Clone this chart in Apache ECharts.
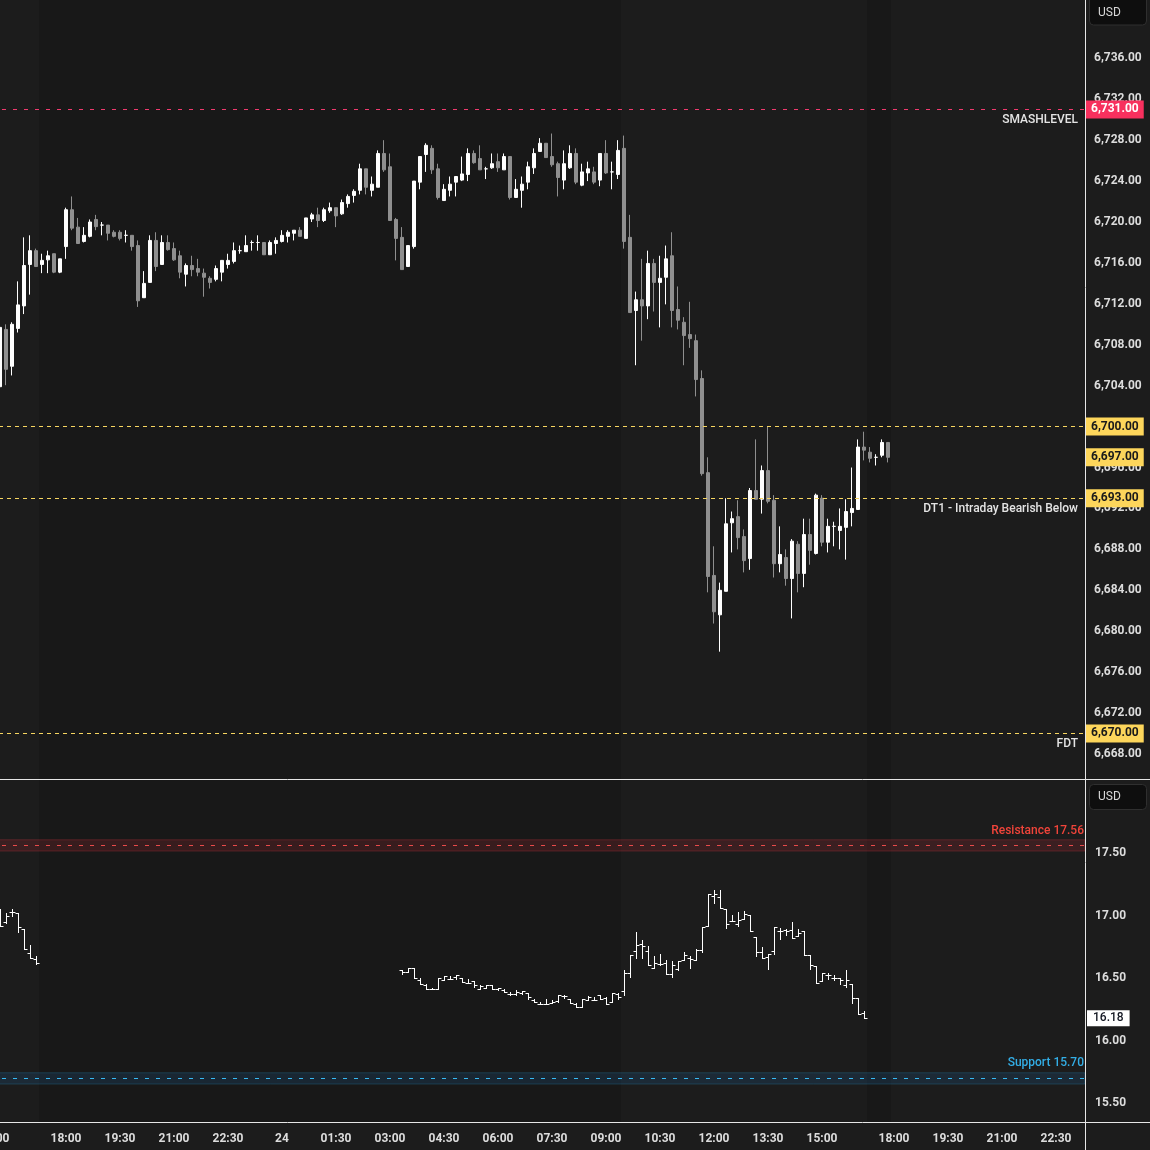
<!DOCTYPE html>
<html><head><meta charset="utf-8">
<script src="https://cdn.jsdelivr.net/npm/echarts@6/dist/echarts.min.js"></script>
<style>html,body{margin:0;padding:0;background:#1c1c1c;}#c{width:1150px;height:1150px;}</style>
</head><body><div id="c"></div>
<script>
// ---- time axis: 10-minute slots, slot 0 = 15:00 (day 1); the 17:00-18:00 break is skipped ----
const xTickSlots  = [0, 12, 21, 30, 39, 48, 57, 66, 75, 84, 93, 102, 111, 120, 129, 138, 150, 159, 168, 177];
const xTickLabels = ['15:00','18:00','19:30','21:00','22:30','24','01:30','03:00','04:30','06:00','07:30','09:00','10:30','12:00','13:30','15:00','18:00','19:30','21:00','22:30'];
const xSlotMin = -0.5, xSlotMax = 181.8333;
// shaded (extended-hours) slot ranges
const shadeRanges = [[7.5, 104.5], [145.5, 149.5]];

// ---- price pane ----
const priceTicks = [6668,6672,6676,6680,6684,6688,6692,6696,6700,6704,6708,6712,6716,6720,6724,6728,6732,6736];
const priceMin = 6665.552, priceMax = 6741.704;
const esFirstSlot = 1;
const esOpen = [6703.9,6709.5,6705.9,6709.6,6711.8,6715.85,6717.2,6715.85,6716.3,6716.9,6715.1,6717.6,6721.2,6719.5,6718.1,6718.6,6720.25,6719.7,6719.7,6719.0,6719.0,6718.7,6718.7,6717.7,6712.6,6714.1,6718.2,6715.85,6718.0,6717.4,6716.7,6714.9,6715.75,6715.45,6715.0,6714.5,6714.4,6715.1,6715.85,6716.15,6717.2,6717.1,6718.0,6718.0,6718.0,6716.8,6717.9,6718.1,6718.6,6718.9,6719.2,6718.4,6720.3,6720.7,6720.15,6721.1,6721.4,6720.8,6721.8,6722.6,6723.1,6725.2,6723.1,6723.4,6726.7,6725.4,6720.25,6718.5,6715.65,6717.6,6723.9,6726.6,6727.2,6725.2,6722.1,6723.1,6723.9,6724.1,6724.65,6726.7,6726.2,6725.2,6725.3,6725.9,6725.1,6726.4,6722.4,6723.1,6723.9,6725.3,6726.9,6727.7,6726.4,6725.7,6724.1,6725.3,6726.7,6723.6,6724.8,6724.9,6724.1,6726.7,6724.9,6724.65,6727.2,6718.5,6711.35,6712.4,6711.8,6715.95,6714.1,6714.6,6716.7,6711.45,6710.2,6709.0,6708.4,6704.7,6695.5,6685.45,6681.6,6683.9,6690.6,6691.2,6689.25,6687.1,6693.75,6692.9,6695.7,6692.8,6686.6,6687.2,6685.15,6688.5,6685.65,6689.45,6687.6,6693.0,6688.7,6690.25,6689.85,6690.15,6691.6,6691.9,6698.0,6697.5,6697.0,6697.2,6698.45];
const esHigh = [6710.2,6710.0,6710.2,6714.2,6718.5,6718.7,6717.4,6716.9,6717.2,6716.9,6716.4,6721.4,6722.5,6720.4,6719.5,6720.25,6720.7,6720.0,6719.7,6719.2,6719.2,6719.2,6718.7,6718.2,6715.2,6718.7,6719.0,6718.7,6718.7,6718.0,6717.2,6715.95,6716.7,6716.4,6715.45,6714.7,6715.75,6716.25,6716.9,6718.0,6717.7,6718.7,6718.2,6718.7,6718.0,6718.2,6718.5,6719.2,6719.2,6719.2,6719.5,6720.4,6720.9,6721.4,6721.4,6721.9,6721.4,6722.2,6722.7,6723.2,6725.7,6725.2,6724.45,6727.0,6728.0,6726.7,6720.4,6719.5,6717.7,6724.0,6726.4,6727.7,6727.5,6725.7,6723.7,6724.45,6724.45,6726.4,6727.2,6727.0,6727.5,6725.4,6726.7,6726.7,6726.7,6726.4,6724.2,6724.45,6725.9,6727.2,6728.2,6727.7,6728.65,6725.9,6727.0,6727.5,6727.2,6725.7,6725.9,6725.4,6726.7,6728.0,6725.9,6728.0,6728.45,6720.7,6713.2,6716.4,6717.2,6716.4,6716.7,6717.7,6719.0,6713.7,6710.7,6712.2,6709.0,6705.5,6697.0,6688.3,6684.75,6693.0,6691.7,6692.8,6689.95,6694.0,6698.75,6696.2,6700.0,6693.3,6690.25,6688.0,6689.0,6688.8,6691.0,6691.0,6693.45,6693.3,6691.0,6690.7,6692.0,6692.9,6696.0,6698.75,6699.5,6698.0,6697.3,6698.75,6698.45];
const esLow = [6703.5,6704.05,6705.0,6709.2,6711.0,6712.9,6715.6,6715.0,6715.0,6715.0,6715.0,6716.4,6719.2,6717.9,6718.0,6718.5,6719.2,6718.7,6718.2,6718.5,6718.2,6718.0,6717.2,6711.7,6712.6,6714.1,6715.2,6715.85,6717.2,6716.2,6714.5,6713.7,6714.7,6714.7,6712.7,6713.5,6714.2,6714.2,6715.45,6715.95,6716.9,6717.1,6717.2,6717.2,6716.8,6716.8,6716.9,6718.0,6718.0,6718.2,6718.6,6718.4,6720.0,6719.5,6720.0,6720.9,6719.5,6720.7,6721.4,6721.9,6722.7,6722.7,6722.5,6723.4,6724.9,6720.15,6716.25,6715.35,6715.65,6717.4,6723.2,6724.9,6724.7,6722.2,6722.1,6722.5,6722.5,6724.0,6724.0,6725.7,6725.1,6724.2,6725.2,6724.9,6725.1,6722.2,6722.4,6721.4,6723.2,6724.7,6726.9,6726.3,6725.4,6722.5,6723.2,6725.2,6723.7,6723.5,6724.0,6723.7,6723.5,6724.7,6723.2,6724.2,6717.4,6711.15,6706.0,6708.4,6710.5,6711.25,6709.7,6711.95,6709.7,6709.5,6706.0,6707.7,6702.95,6695.2,6683.8,6680.75,6678.0,6683.9,6687.7,6688.0,6685.75,6686.0,6692.9,6691.5,6692.5,6685.25,6685.75,6684.45,6681.25,6683.8,6684.3,6686.5,6687.5,6688.3,6687.7,6688.3,6688.0,6687.0,6690.25,6691.9,6696.7,6696.5,6696.2,6697.0,6696.5];
const esClose = [6709.7,6705.6,6710.0,6711.9,6715.75,6717.2,6715.65,6716.25,6716.7,6715.1,6716.4,6721.2,6719.4,6717.9,6718.7,6720.0,6719.55,6719.7,6718.9,6718.6,6718.4,6718.7,6717.6,6712.3,6714.0,6718.2,6715.65,6718.0,6717.3,6716.3,6715.1,6715.75,6715.35,6715.1,6714.6,6714.1,6715.45,6716.25,6716.25,6717.2,6717.2,6717.7,6718.0,6718.0,6716.8,6718.0,6718.2,6718.7,6719.0,6719.2,6718.6,6720.4,6720.7,6720.15,6721.2,6721.4,6720.6,6721.9,6722.5,6723.0,6725.2,6723.4,6723.7,6726.7,6725.1,6720.15,6718.4,6715.35,6717.7,6724.0,6726.4,6727.5,6725.1,6722.4,6723.2,6723.7,6724.45,6724.7,6726.7,6725.8,6725.1,6725.2,6725.7,6725.3,6726.4,6722.4,6723.2,6723.7,6725.4,6726.7,6727.7,6726.3,6725.6,6724.35,6725.7,6726.7,6723.9,6724.9,6725.2,6723.9,6726.7,6724.8,6724.9,6727.0,6718.1,6711.15,6712.4,6711.8,6715.95,6714.1,6714.5,6716.4,6711.35,6710.4,6708.9,6708.6,6704.6,6695.4,6685.35,6681.9,6684.0,6690.5,6691.0,6689.15,6686.9,6693.75,6692.9,6695.7,6692.7,6686.6,6687.5,6685.15,6688.8,6685.65,6689.45,6687.9,6693.3,6688.7,6690.25,6690.25,6690.25,6691.7,6692.0,6698.0,6697.7,6696.9,6697.0,6698.45,6697.0];
const priceLevels = [6731, 6700, 6693, 6670];
const priceLevelNames = ['SMASHLEVEL', '', 'DT1 - Intraday Bearish Below', 'FDT'];
const priceLevelKinds = ['smash', 'key', 'key', 'key'];
const lastPrice = 6697;

// ---- VIX pane ----
const vixTicks = [15.5, 16, 16.5, 17, 17.5];
const vixMin = 15.352, vixMax = 18.0823;
const vixSlots = [1,2,3,4,5,6,7,68,69,70,71,72,73,74,75,76,77,78,79,80,81,82,83,84,85,86,87,88,89,90,91,92,93,94,95,96,97,98,99,100,101,102,103,104,105,106,107,108,109,110,111,112,113,114,115,116,117,118,119,120,121,122,123,124,125,126,127,128,129,130,131,132,133,134,135,136,137,138,139,140,141,142,143,144,145];
const vixOpen = [17.05,16.95,17.03,17.02,16.89,16.70,16.657,16.565,16.548,16.58,16.485,16.445,16.413,16.413,16.485,16.493,16.51,16.50,16.461,16.477,16.413,16.42,16.445,16.413,16.405,16.373,16.373,16.381,16.381,16.325,16.293,16.293,16.30,16.317,16.357,16.333,16.293,16.27,16.325,16.325,16.365,16.341,16.31,16.373,16.397,16.541,16.716,16.772,16.72,16.58,16.61,16.62,16.533,16.573,16.644,16.66,16.644,16.724,16.915,17.155,17.147,17.051,16.955,16.93,16.971,17.003,16.828,16.708,16.668,16.716,16.876,16.884,16.884,16.836,16.876,16.684,16.597,16.477,16.525,16.50,16.50,16.445,16.453,16.341,16.222];
const vixHigh = [17.05,17.02,17.05,17.02,16.89,16.766,16.68,16.565,16.58,16.58,16.50,16.453,16.42,16.50,16.517,16.517,16.525,16.50,16.493,16.477,16.445,16.445,16.445,16.42,16.413,16.39,16.405,16.397,16.381,16.333,16.31,16.333,16.325,16.365,16.365,16.333,16.30,16.333,16.357,16.35,16.365,16.35,16.381,16.381,16.565,16.684,16.868,16.804,16.756,16.676,16.692,16.644,16.636,16.636,16.708,16.676,16.732,16.907,17.17,17.203,17.203,17.051,17.003,17.027,17.035,17.003,16.828,16.748,16.692,16.907,16.90,16.892,16.947,16.892,16.876,16.684,16.597,16.541,16.541,16.525,16.50,16.565,16.453,16.341,16.238];
const vixLow = [16.915,16.94,16.995,16.87,16.73,16.665,16.617,16.533,16.548,16.50,16.453,16.413,16.41,16.413,16.485,16.493,16.493,16.469,16.461,16.429,16.413,16.42,16.413,16.405,16.39,16.365,16.365,16.373,16.333,16.31,16.293,16.293,16.30,16.31,16.341,16.30,16.27,16.27,16.325,16.325,16.333,16.293,16.31,16.333,16.365,16.509,16.66,16.66,16.604,16.58,16.604,16.533,16.509,16.565,16.644,16.58,16.644,16.708,16.915,17.10,17.06,16.90,16.955,16.915,16.971,16.876,16.676,16.66,16.573,16.692,16.812,16.844,16.82,16.836,16.684,16.573,16.461,16.477,16.493,16.485,16.453,16.429,16.30,16.214,16.182];
const vixClose = [16.92,17.00,17.03,16.91,16.73,16.665,16.623,16.553,16.58,16.50,16.453,16.413,16.413,16.50,16.517,16.493,16.525,16.469,16.461,16.445,16.437,16.445,16.413,16.42,16.39,16.373,16.39,16.397,16.35,16.31,16.293,16.293,16.31,16.365,16.357,16.30,16.27,16.333,16.35,16.325,16.333,16.293,16.381,16.35,16.541,16.684,16.764,16.756,16.604,16.62,16.61,16.533,16.604,16.636,16.684,16.652,16.724,16.907,17.17,17.17,17.06,16.93,16.955,16.963,17.011,16.876,16.708,16.66,16.692,16.907,16.876,16.876,16.82,16.86,16.684,16.604,16.461,16.541,16.525,16.50,16.485,16.485,16.341,16.214,16.18];
const vixResistance = 17.56, vixSupport = 15.70, vixLast = 16.18;

// ---- build ----
const FONT = 'Roboto';
const AXIS_TEXT = '#dcdcdc';
const BG = '#1c1c1c', BG_DARK = '#181818';
const SMASH = '#f7305e', KEY = '#fdd65b', KEY_LINE = '#f7d660';
const HIDDEN_LINE = {color: 'rgba(0,0,0,0)', width: 0};
const fmtPrice = v => {
  const s = Math.abs(v).toFixed(2).split('.');
  return s[0].replace(/\B(?=(\d{3})+(?!\d))/g, ',') + '.' + s[1];
};

const esData = esOpen.map((o, k) => [esFirstSlot + k, o, esClose[k], esLow[k], esHigh[k]]);
const vixData = vixSlots.map((s, k) => [s, vixOpen[k], vixHigh[k], vixLow[k], vixClose[k]]);

const shadeItems = shadeRanges.map(r => [{xAxis: r[0], itemStyle: {color: BG_DARK}}, {xAxis: r[1]}]);

const tagLabel = (text, bg, fg) => ({
  show: true, position: 'end', distance: 1, formatter: text, color: fg,
  backgroundColor: bg, padding: [3, 5, 2, 5], fontSize: 12, fontWeight: 'bold',
  fontFamily: FONT, lineHeight: 13
});

const priceMarkLines = [];
priceLevels.forEach((v, k) => {
  const smash = priceLevelKinds[k] === 'smash';
  priceMarkLines.push({
    yAxis: v,
    lineStyle: {color: smash ? '#f03a6e' : KEY_LINE, width: 1, type: smash ? [4, 7] : [4, 4]},
    label: tagLabel(fmtPrice(v), smash ? SMASH : KEY, smash ? '#ffffff' : '#1a1a1a')
  });
  if (priceLevelNames[k]) {
    priceMarkLines.push({
      yAxis: v, lineStyle: HIDDEN_LINE,
      label: {show: true, position: 'insideEndBottom', distance: [7, 5], formatter: priceLevelNames[k],
        color: '#e4e4e4', fontSize: 12, fontWeight: 500, fontFamily: FONT}
    });
  }
});
priceMarkLines.push({yAxis: lastPrice, lineStyle: HIDDEN_LINE, label: tagLabel(fmtPrice(lastPrice), KEY, '#1a1a1a')});

const vixMarkLines = [
  {yAxis: vixResistance, lineStyle: {color: '#e84a4a', width: 1, type: [4, 7]},
   label: {show: true, position: 'insideEndTop', distance: [1, 8], formatter: 'Resistance ' + vixResistance.toFixed(2),
     color: '#f0443a', fontSize: 12, fontWeight: 500, fontFamily: FONT}},
  {yAxis: vixSupport, lineStyle: {color: '#38baf4', width: 1, type: [4, 7]},
   label: {show: true, position: 'insideEndTop', distance: [1, 9], formatter: 'Support ' + vixSupport.toFixed(2),
     color: '#33aee6', fontSize: 12, fontWeight: 500, fontFamily: FONT}},
  {yAxis: vixLast, lineStyle: HIDDEN_LINE,
   label: Object.assign(tagLabel(vixLast.toFixed(2), '#ffffff', '#131722'), {fontWeight: 500, padding: [2, 6, 1, 6], distance: 2})}
];

const vixAreas = shadeItems.concat([
  [{yAxis: vixResistance - 0.045, itemStyle: {color: 'rgba(242,54,69,0.15)', borderColor: 'rgba(242,54,69,0.24)', borderWidth: 1}}, {yAxis: vixResistance + 0.045}],
  [{yAxis: vixSupport - 0.045, itemStyle: {color: 'rgba(33,150,243,0.12)', borderColor: 'rgba(41,182,246,0.2)', borderWidth: 1}}, {yAxis: vixSupport + 0.045}]
]);

const axisLabelBase = {color: AXIS_TEXT, fontSize: 12, fontWeight: 'bold', fontFamily: FONT};

const option = {
  backgroundColor: BG,
  animation: false,
  grid: [
    {left: -9, top: 0, width: 1094, height: 779, outerBoundsMode: 'none', containLabel: false},
    {left: -9, top: 780, width: 1094, height: 342, outerBoundsMode: 'none', containLabel: false}
  ],
  xAxis: [
    {type: 'value', gridIndex: 0, min: xSlotMin, max: xSlotMax, show: false},
    {type: 'value', gridIndex: 1, min: xSlotMin, max: xSlotMax,
     axisLine: {show: false}, axisTick: {show: false}, splitLine: {show: false},
     axisLabel: Object.assign({}, axisLabelBase, {margin: 11, customValues: xTickSlots, hideOverlap: false,
       formatter: v => { const k = xTickSlots.indexOf(Math.round(v)); return k >= 0 ? xTickLabels[k] : ''; }})}
  ],
  yAxis: [
    {type: 'value', gridIndex: 0, position: 'right', min: priceMin, max: priceMax,
     axisLine: {show: false}, axisTick: {show: false}, splitLine: {show: false},
     axisLabel: Object.assign({}, axisLabelBase, {margin: 9, customValues: priceTicks, formatter: v => fmtPrice(v)})},
    {type: 'value', gridIndex: 1, position: 'right', min: vixMin, max: vixMax,
     axisLine: {show: false}, axisTick: {show: false}, splitLine: {show: false},
     axisLabel: Object.assign({}, axisLabelBase, {margin: 10, customValues: vixTicks, formatter: v => v.toFixed(2)})}
  ],
  series: [
    {
      type: 'candlestick', xAxisIndex: 0, yAxisIndex: 0, data: esData, barWidth: 4,
      itemStyle: {color: '#ffffff', color0: '#8f8f8f', borderColor: '#ffffff', borderColor0: '#8f8f8f',
        borderColorDoji: '#ffffff', borderWidth: 1},
      markArea: {silent: true, data: shadeItems},
      markLine: {silent: true, symbol: ['none', 'none'], animation: false, data: priceMarkLines}
    },
    {
      type: 'custom', xAxisIndex: 1, yAxisIndex: 1, data: vixData,
      encode: {x: 0, y: [1, 2, 3, 4]},
      renderItem: function (params, api) {
        const x = api.value(0);
        const pO = api.coord([x, api.value(1)]);
        const pH = api.coord([x, api.value(2)]);
        const pL = api.coord([x, api.value(3)]);
        const pC = api.coord([x, api.value(4)]);
        const cx = Math.round(pH[0]) + 0.5;
        const sy = y => Math.round(y) + 0.5;
        const style = {stroke: '#ffffff', lineWidth: 1, fill: null};
        return {type: 'group', children: [
          {type: 'line', shape: {x1: cx, y1: Math.round(pH[1]), x2: cx, y2: Math.round(pL[1]) + 1}, style: style},
          {type: 'line', shape: {x1: cx - 3, y1: sy(pO[1]), x2: cx, y2: sy(pO[1])}, style: style},
          {type: 'line', shape: {x1: cx, y1: sy(pC[1]), x2: cx + 3, y2: sy(pC[1])}, style: style}
        ]};
      },
      markArea: {silent: true, data: vixAreas},
      markLine: {silent: true, symbol: ['none', 'none'], animation: false, data: vixMarkLines}
    }
  ],
  graphic: [
    {type: 'line', z: 100, shape: {x1: 1085.5, y1: 0, x2: 1085.5, y2: 1150}, style: {stroke: '#e6e6e6', lineWidth: 1}},
    {type: 'line', z: 100, shape: {x1: 0, y1: 779.5, x2: 1150, y2: 779.5}, style: {stroke: '#e6e6e6', lineWidth: 1}},
    {type: 'line', z: 100, shape: {x1: 0, y1: 1122.5, x2: 1150, y2: 1122.5}, style: {stroke: '#e6e6e6', lineWidth: 1}},
    {type: 'rect', z: 100, shape: {x: 1089.5, y: -4.5, width: 57, height: 29.5, r: 4}, style: {fill: '#0e0e0e', stroke: '#2f2f2f', lineWidth: 1}},
    {type: 'text', z: 101, style: {text: 'USD', x: 1098, y: 13, fill: '#d8d8d8', font: '12px Roboto', verticalAlign: 'middle'}},
    {type: 'rect', z: 100, shape: {x: 1089.5, y: 784.5, width: 57, height: 25, r: 4}, style: {fill: '#0e0e0e', stroke: '#2f2f2f', lineWidth: 1}},
    {type: 'text', z: 101, style: {text: 'USD', x: 1098, y: 797, fill: '#d8d8d8', font: '12px Roboto', verticalAlign: 'middle'}}
  ]
};

const chart = echarts.init(document.getElementById('c'), null, {renderer: 'canvas'});
chart.setOption(option);
</script>
</body></html>
